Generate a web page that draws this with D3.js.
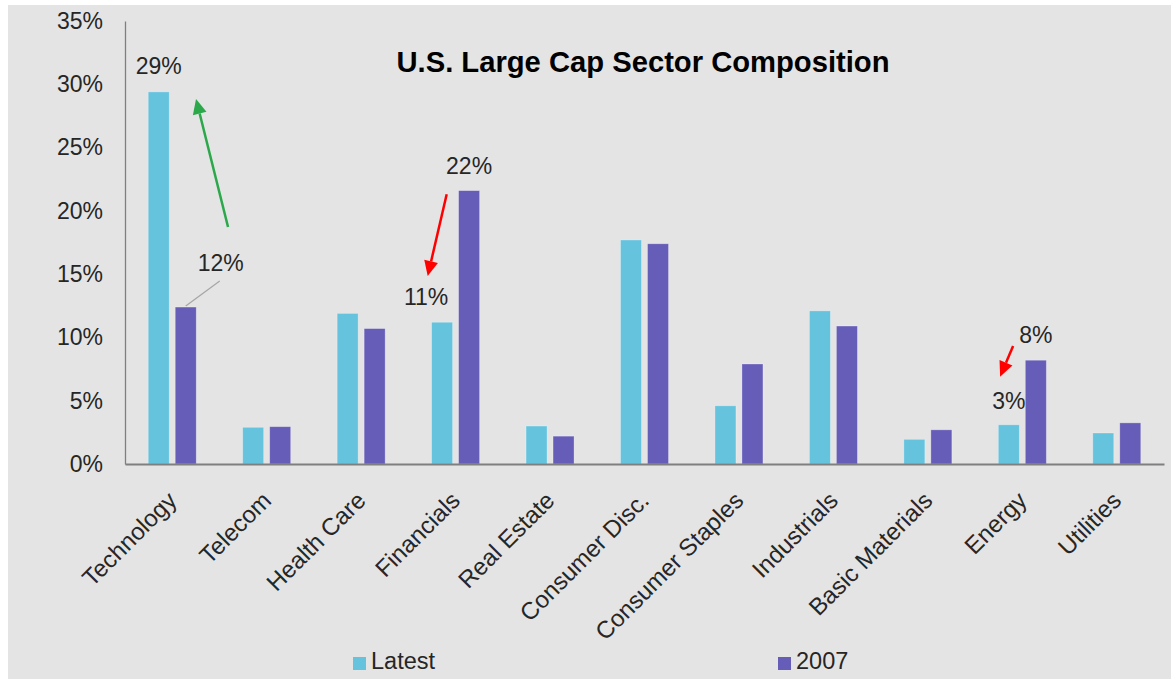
<!DOCTYPE html>
<html>
<head>
<meta charset="utf-8">
<script src="https://cdn.jsdelivr.net/npm/d3@7"></script>
<style>
  html, body { margin: 0; padding: 0; background: #ffffff; }
  svg { display: block; }
  text { font-family: "Liberation Sans", Arial, sans-serif; fill: #262626; }
</style>
</head>
<body>
<svg id="chart" width="1171" height="683"></svg>
<script>
// Sector weights (% of index)
const categories = ["Technology", "Telecom", "Health Care", "Financials", "Real Estate",
  "Consumer Disc.", "Consumer Staples", "Industrials", "Basic Materials", "Energy", "Utilities"];
const seriesNames = ["Latest", "2007"];
const latestValues = [29.4, 2.9, 11.9, 11.2, 3.0, 17.7, 4.6, 12.1, 1.95, 3.1, 2.45];
const values2007 = [12.4, 2.95, 10.7, 21.6, 2.2, 17.4, 7.9, 10.9, 2.7, 8.2, 3.25];
const yTicks = [0, 5, 10, 15, 20, 25, 30, 35];
const seriesColors = ["#66c3de", "#665db8"];

const W = 1171, H = 683;
const svg = d3.select("#chart");

// panel background
svg.append("rect").attr("x", 8).attr("y", 5).attr("width", W - 8).attr("height", 674)
  .attr("fill", "#e4e4e4");

const plot = { left: 125, right: 1164, top: 21, bottom: 464 };

const x0 = d3.scaleBand().domain(categories).range([plot.left, plot.right]).padding(0);
const groupW = 48;
const x1 = d3.scaleBand().domain(seriesNames)
  .range([(x0.bandwidth() - groupW) / 2, (x0.bandwidth() + groupW) / 2])
  .paddingInner(6 / 27).paddingOuter(0);
const y = d3.scaleLinear().domain([0, 35]).range([plot.bottom, plot.top]);

const rows = categories.map((c, i) => ({ cat: c, vals: [latestValues[i], values2007[i]] }));

// title
svg.append("text").attr("x", 643).attr("y", 72).attr("text-anchor", "middle")
  .style("font-size", "29.2px").style("font-weight", "bold").style("fill", "#000")
  .text("U.S. Large Cap Sector Composition");

// y axis
const yAxis = d3.axisLeft(y).tickValues(yTicks).tickFormat(d => d + "%").tickSize(0).tickPadding(22);
const gy = svg.append("g").attr("transform", `translate(${plot.left},0)`).call(yAxis);
gy.select(".domain").attr("stroke", "#7f7f7f").attr("stroke-width", 1.3);
gy.selectAll(".tick text").style("font-size", "23px").style("font-family", "Liberation Sans, Arial, sans-serif")
  .attr("fill", "#262626");

// bars
const groups = svg.append("g").selectAll("g").data(rows).join("g")
  .attr("transform", d => `translate(${x0(d.cat)},0)`);
groups.selectAll("rect").data(d => d.vals.map((v, k) => ({ s: seriesNames[k], v, k })))
  .join("rect")
  .attr("x", d => x1(d.s))
  .attr("y", d => y(d.v))
  .attr("width", x1.bandwidth())
  .attr("height", d => y(0) - y(d.v))
  .attr("fill", d => seriesColors[d.k])
  .attr("stroke", "rgba(255,255,255,0.35)")
  .attr("stroke-width", 0.8);

// x axis baseline and labels
const xAxis = d3.axisBottom(x0).tickSize(0).tickFormat(d => d);
const gx = svg.append("g").attr("transform", `translate(0,${plot.bottom})`).call(xAxis);
gx.select(".domain").attr("stroke", "#7f7f7f").attr("stroke-width", 2);
gx.selectAll(".tick text")
  .style("font-size", "24px").style("font-family", "Liberation Sans, Arial, sans-serif")
  .attr("fill", "#262626")
  .attr("text-anchor", "end")
  .attr("dy", 0).attr("y", 0)
  .attr("transform", "translate(6,38) rotate(-45)");

// value labels
const fmt = v => d3.format(".0f")(v) + "%";
const barCenter = (cat, k) => x0(cat) + x1(seriesNames[k]) + x1.bandwidth() / 2;
const valueOf = (cat, k) => (k === 0 ? latestValues : values2007)[categories.indexOf(cat)];

const labels = [
  { cat: "Technology", k: 0, dx: 0, dy: -18 },
  { cat: "Technology", k: 1, dx: 35, dy: -36 },
  { cat: "Financials", k: 0, dx: -16, dy: -17 },
  { cat: "Financials", k: 1, dx: 0, dy: -17 },
  { cat: "Energy", k: 0, dx: 0, dy: -16 },
  { cat: "Energy", k: 1, dx: 0, dy: -17 }
];
svg.append("g").selectAll("text").data(labels).join("text")
  .attr("x", d => barCenter(d.cat, d.k) + d.dx)
  .attr("y", d => y(valueOf(d.cat, d.k)) + d.dy)
  .attr("text-anchor", "middle")
  .style("font-size", "23px")
  .text(d => fmt(valueOf(d.cat, d.k)));

// leader line for the Technology 2007 label
{
  const cx = barCenter("Technology", 1), ty = y(valueOf("Technology", 1));
  svg.append("line").attr("x1", cx).attr("y1", ty - 1).attr("x2", cx + 34).attr("y2", ty - 26)
    .attr("stroke", "#a6a6a6").attr("stroke-width", 1.2);
}

// change arrows
const arrows = [
  { cat: "Technology", fromDx: 55.8, fromV: 18.72, toDx: 23.8, toV: 28.84, color: "#2ba84a" },
  { cat: "Financials", fromDx: -8.9, fromV: 21.31, toDx: -27.9, toV: 14.85, color: "#ff0000" },
  { cat: "Energy", fromDx: -9.2, fromV: 9.32, toDx: -22.2, toV: 6.9, color: "#ff0000" }
];
const ag = svg.append("g");
arrows.forEach(a => {
  const c = x0(a.cat) + x0.bandwidth() / 2;
  const x1p = c + a.fromDx, y1p = y(a.fromV), x2p = c + a.toDx, y2p = y(a.toV);
  const ang = Math.atan2(y2p - y1p, x2p - x1p);
  const headL = 15, headW = 7;
  const bx = x2p - headL * Math.cos(ang), by = y2p - headL * Math.sin(ang);
  ag.append("line").attr("x1", x1p).attr("y1", y1p).attr("x2", bx).attr("y2", by)
    .attr("stroke", a.color).attr("stroke-width", 2.5);
  const px = -Math.sin(ang), py = Math.cos(ang);
  ag.append("path")
    .attr("d", `M${x2p},${y2p}L${bx + px * headW},${by + py * headW}L${bx - px * headW},${by - py * headW}Z`)
    .attr("fill", a.color);
});

// legend
const legendItems = [
  { name: "Latest", k: 0, x: 353 },
  { name: "2007", k: 1, x: 778 }
];
const lg = svg.append("g").selectAll("g").data(legendItems).join("g")
  .attr("transform", d => `translate(${d.x},657)`);
lg.append("rect").attr("width", 13).attr("height", 13).attr("fill", d => seriesColors[d.k]);
lg.append("text").attr("x", 18).attr("y", 12).style("font-size", "23.5px").text(d => d.name);
</script>
</body>
</html>
